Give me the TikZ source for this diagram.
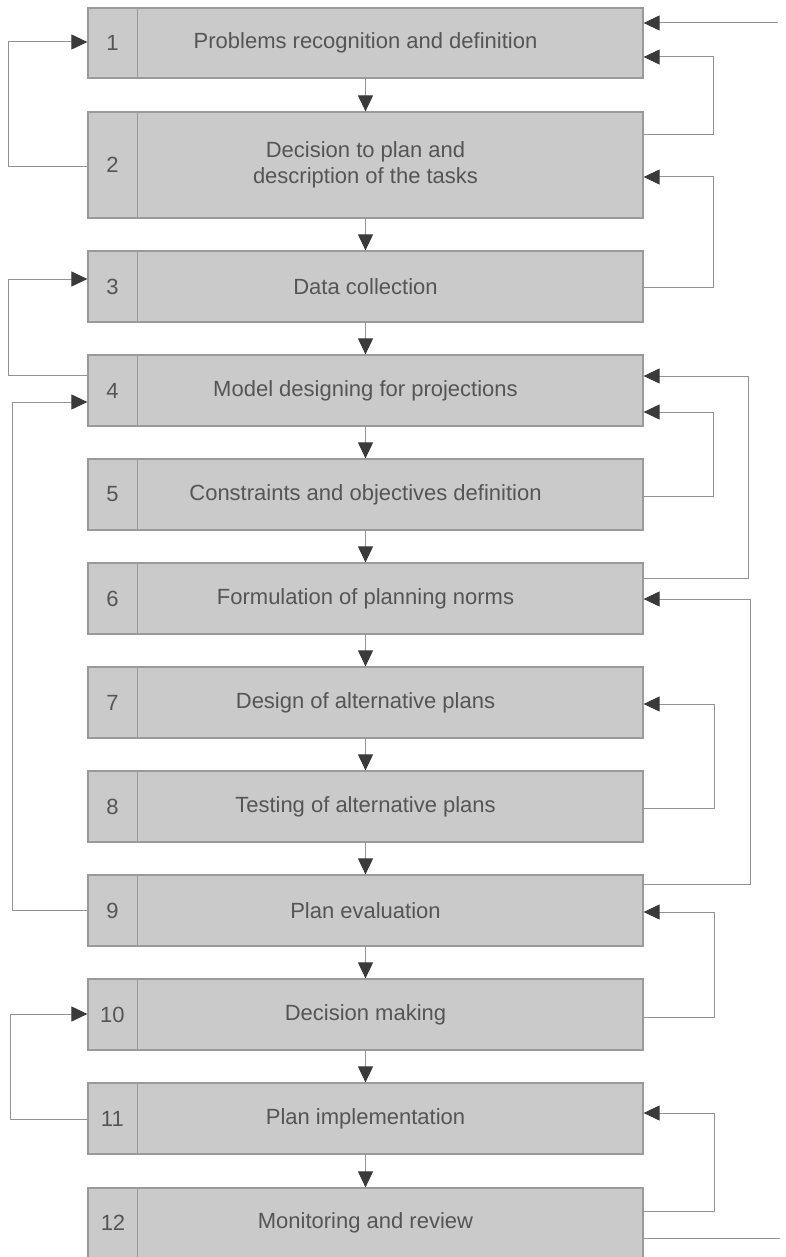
\documentclass[tikz,border=0pt]{standalone}
\usepackage{fontspec}
\setmainfont{Liberation Sans}
\usetikzlibrary{arrows.meta,calc}
\definecolor{boxfill}{HTML}{CACACA}
\definecolor{boxedge}{HTML}{9A9A9A}
\definecolor{txt}{HTML}{555555}
\definecolor{linecol}{HTML}{929292}
\definecolor{headcol}{HTML}{3A3A3A}
\begin{document}
\begin{tikzpicture}[x=1pt,y=-1pt,
  stage/.style={draw=boxedge, line width=1.2pt, fill=boxfill, minimum width=555pt,
    inner sep=0pt, text=txt, font=\fontsize{22}{26}\selectfont, align=center},
  num/.style={text=txt, font=\fontsize{22}{26}\selectfont, inner sep=0pt},
  divider/.style={draw=boxedge, line width=1pt},
  link/.style={draw=linecol, line width=1pt,
    -{Triangle[length=16pt,width=15pt,color=headcol]}},
  plain/.style={draw=linecol, line width=1pt}]
\useasboundingbox (0,0) rectangle (785,1257);

% the twelve stages
\node[stage, minimum height=70pt]  (b1) at (365.5,43)  {Problems recognition and definition};
\node[stage, minimum height=106pt] (b2) at (365.5,165) {Decision to plan and\\description of the tasks};
\foreach \i/\t [evaluate=\i as \yc using 251+35.5+104*(\i-3)] in
  {3/Data collection,
   4/Model designing for projections,
   5/Constraints and objectives definition,
   6/Formulation of planning norms,
   7/Design of alternative plans,
   8/Testing of alternative plans,
   9/Plan evaluation,
   10/Decision making,
   11/Plan implementation}
  \node[stage, minimum height=71pt] (b\i) at (365.5,\yc) {\t};
\node[stage, minimum height=90pt] (b12) at (365.5,1233) {};
\node[text=txt, font=\fontsize{22}{26}\selectfont] (t12) at (365.5,1223) {Monitoring and review};

% number column
\foreach \i in {1,...,12}{
  \draw[divider] ($(b\i.north west)+(50,0)$) -- ($(b\i.south west)+(50,0)$);
}
\foreach \i in {1,...,11}
  \node[num] (n\i) at ($(b\i.west)+(25,0)$) {\i};
\node[num] (n12) at (113,1223) {12};

% main flow
\foreach \i [evaluate=\i as \j using int(\i+1)] in {1,...,11}
  \draw[link] (b\i.south) -- (b\j.north);

% feedback loops on the right
\coordinate (src) at (778,23);
\draw[link] (src) -- (b1.east |- src);
\draw[link] (b2.east |- 0,135) -| (713,57) -- (b1.east |- 0,57);
\draw[link] (b3.east |- 0,287) -| (713,177) -- (b2.east |- 0,177);
\draw[link] (b5.east |- 0,496) -| (713,412) -- (b4.east |- 0,412);
\draw[link] (b6.east |- 0,578) -| (748,376) -- (b4.east |- 0,376);
\draw[link] (b9.east |- 0,884) -| (750,599) -- (b6.east |- 0,599);
\draw[link] (b8.east |- 0,808) -| (714,704) -- (b7.east |- 0,704);
\draw[link] (b10.east |- 0,1017) -| (714,912) -- (b9.east |- 0,912);
\draw[link] (b12.east |- 0,1211) -| (714,1113) -- (b11.east |- 0,1113);
\coordinate (out) at (780,1238);
\draw[plain] (b12.east |- out) -- (out);

% feedback loops on the left
\draw[link] (b2.west |- 0,167) -| (8,42) -- (b1.west |- 0,42);
\draw[link] (b4.west |- 0,375) -| (8,279) -- (b3.west |- 0,279);
\draw[link] (b9.west |- 0,910) -| (12,402) -- (b4.west |- 0,402);
\draw[link] (b11.west |- 0,1119) -| (10,1014) -- (b10.west |- 0,1014);
\end{tikzpicture}
\end{document}
